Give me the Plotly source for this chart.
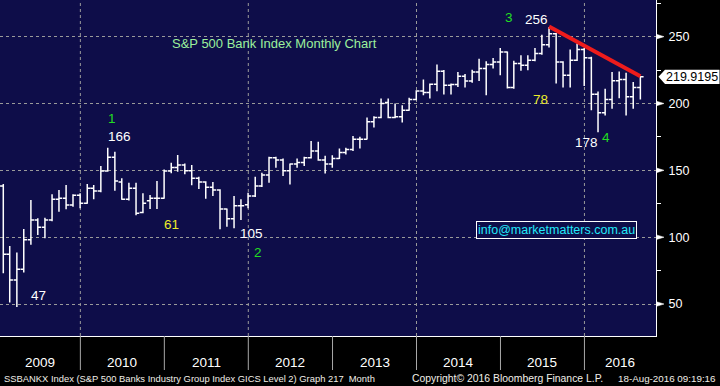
import pandas as pd
import plotly.graph_objects as go

# ---------------- data (monthly OHLC, S&P 500 Banks index) ----------------
dates = [d.strftime("%Y-%m-%d") for d in
         pd.date_range("2009-01-31", periods=92, freq=pd.offsets.MonthEnd())]

opens = [138.3, 87.3, 67.9, 76.1, 98.0, 112.9, 107.5, 112.9, 128.4, 129.1, 124.1, 131.3,
         125.4, 136.6, 134.6, 149.5, 159.7, 141.3, 128.4, 136.6, 118.4, 127.3, 129.1, 129.1,
         149.5, 152.2, 154.0, 149.7, 144.0, 141.3, 137.3, 135.3, 121.1, 113.7, 123.6, 124.3,
         130.8, 138.2, 146.5, 159.4, 157.7, 149.7, 154.7, 155.9, 159.4, 164.4, 157.7, 154.7,
         158.9, 163.4, 165.6, 173.3, 173.3, 186.3, 189.5, 200.7, 189.5, 190.0, 195.0, 203.0,
         209.4, 208.2, 214.4, 224.1, 213.7, 214.2, 220.3, 216.9, 223.6, 226.1, 229.1, 231.1,
         238.5, 211.9, 230.0, 228.6, 232.3, 237.3, 244.0, 252.2, 231.1, 221.1, 232.3, 240.3,
         234.0, 207.0, 193.0, 203.0, 217.0, 218.0, 205.0, 212.0]
highs = [139.8, 93.5, 88.5, 106.2, 127.8, 114.2, 114.6, 132.1, 135.3, 139.0, 132.1, 132.8,
         139.8, 139.0, 153.2, 166.9, 163.9, 144.0, 140.8, 140.8, 132.8, 131.6, 142.0, 150.7,
         155.7, 161.4, 155.2, 154.0, 145.2, 141.8, 141.3, 135.8, 121.4, 130.8, 128.4, 133.3,
         145.2, 148.2, 160.2, 160.2, 158.9, 155.2, 158.9, 160.2, 171.9, 171.4, 160.9, 161.2,
         166.4, 166.9, 175.6, 175.1, 189.5, 190.5, 203.7, 203.7, 199.9, 198.7, 204.2, 209.9,
         217.9, 214.9, 229.1, 225.0, 214.9, 223.6, 222.0, 225.3, 233.5, 231.5, 234.0, 241.5,
         238.8, 232.0, 236.0, 236.1, 241.5, 251.5, 257.2, 252.7, 231.5, 240.3, 244.8, 241.5,
         235.0, 209.0, 211.0, 223.5, 224.0, 223.0, 216.0, 220.5]
lows = [73.1, 51.2, 47.8, 73.6, 94.3, 101.7, 99.3, 112.0, 119.1, 120.9, 122.8, 121.6,
        125.0, 128.4, 133.6, 149.0, 134.8, 128.0, 127.5, 116.4, 117.9, 121.1, 121.1, 128.8,
        147.8, 149.0, 147.0, 138.8, 136.0, 128.8, 130.8, 106.0, 107.9, 106.7, 112.9, 121.6,
        130.0, 137.5, 140.8, 152.0, 145.7, 139.5, 152.0, 153.2, 158.9, 157.2, 147.7, 152.0,
        158.5, 161.9, 164.4, 166.4, 173.0, 182.1, 189.0, 189.0, 189.0, 185.8, 194.5, 202.5,
        206.2, 203.7, 209.2, 206.7, 206.7, 212.4, 211.9, 215.5, 216.9, 206.2, 226.1, 221.1,
        211.2, 211.0, 224.4, 224.9, 231.6, 236.5, 241.8, 214.9, 211.9, 211.9, 231.8, 213.0,
        195.0, 178.5, 191.0, 196.0, 204.0, 191.0, 196.0, 203.0]
closes = [87.3, 67.9, 76.1, 98.0, 112.9, 107.5, 112.9, 128.4, 129.1, 124.1, 131.3, 125.4,
          136.6, 134.6, 149.5, 159.7, 142.0, 128.4, 136.6, 117.9, 125.4, 129.1, 129.1, 149.5,
          152.2, 154.0, 149.7, 144.0, 141.3, 137.3, 135.3, 121.1, 113.7, 123.6, 123.6, 130.8,
          138.2, 146.5, 159.4, 157.7, 149.7, 154.7, 155.9, 159.4, 164.4, 157.7, 154.7, 158.9,
          163.4, 165.6, 173.3, 173.3, 186.3, 189.5, 199.9, 189.5, 190.0, 195.0, 203.0, 209.4,
          208.2, 214.4, 224.1, 213.7, 214.2, 220.3, 216.9, 223.6, 226.1, 229.1, 231.1, 238.5,
          211.9, 230.0, 228.6, 232.3, 237.3, 244.0, 252.2, 231.1, 221.1, 232.3, 240.3, 234.3,
          207.0, 193.0, 203.0, 217.0, 218.0, 205.0, 212.0, 219.9195]

trend_dates = ["2015-07-31", "2016-08-31"]
trend_values = [257.5, 220.3]

years = [2009, 2010, 2011, 2012, 2013, 2014, 2015, 2016]
grid_years = [2010, 2012, 2014, 2016]
y_major = [50, 100, 150, 200, 250]
last_price_text = "219.9195"

# ---------------- geometry helpers ----------------
W, H = 720, 386
ML, MR, MT, MB = 0, 64, 0, 50
PW, PH = W - ML - MR, H - MT - MB
X_RANGE = ["2009-01-16 17:00", "2016-11-07"]
Y_RANGE = [26.1, 277.4]
ppu = PH / (Y_RANGE[1] - Y_RANGE[0])


def px(x, y):
    return x / PW, 1 - y / PH


FONT = "Liberation Sans, Arial, sans-serif"
NAVY = "#0e0d49"
WHITE = "#ffffff"
GREEN = "#22dd22"
YELLOW = "#ecec2a"

fig = go.Figure()
fig.add_trace(go.Ohlc(
    x=dates, open=opens, high=highs, low=lows, close=closes,
    increasing=dict(line=dict(color=WHITE, width=1.5)),
    decreasing=dict(line=dict(color=WHITE, width=1.5)),
    tickwidth=0.5, showlegend=False, hoverinfo="skip"))
fig.add_trace(go.Scatter(
    x=trend_dates, y=trend_values, mode="lines",
    line=dict(color="#ee1c1c", width=4), showlegend=False, hoverinfo="skip"))

shapes = []
for yr in grid_years:
    shapes.append(dict(type="line", xref="x", yref="paper", x0=f"{yr}-01-01", x1=f"{yr}-01-01",
                       y0=0, y1=1, line=dict(color="#9a9a9a", width=1, dash="dot"), layer="below"))
for yr in years[1:]:
    shapes.append(dict(type="line", xref="x", yref="paper", x0=f"{yr}-01-01", x1=f"{yr}-01-01",
                       y0=0, y1=-34 / PH, line=dict(color="#a8a8a8", width=1)))
# arrow markers on right axis
for v in y_major:
    h = 2.3 / ppu
    shapes.append(dict(type="path", xref="paper", yref="y",
                       path=f"M {656.5/PW},{v+h} L {664/PW},{v} L {656.5/PW},{v-h} Z",
                       fillcolor=WHITE, line=dict(color=WHITE, width=0.5)))
# last price tag
lv = closes[-1]
hh = 7.2 / ppu
shapes.append(dict(type="path", xref="paper", yref="y",
                   path=(f"M {658.5/PW},{lv} L {665/PW},{lv+hh} L {719.5/PW},{lv+hh} "
                         f"L {719.5/PW},{lv-hh} L {665/PW},{lv-hh} Z"),
                   fillcolor=WHITE, line=dict(color=WHITE, width=0)))

ann = []


def add_text(text, x, y, color, size, xanchor="center", yanchor="middle", **kw):
    xp, yp = px(x, y)
    ann.append(dict(text=text, x=xp, y=yp, xref="paper", yref="paper", showarrow=False,
                    xanchor=xanchor, yanchor=yanchor,
                    font=dict(family=FONT, size=size, color=color), **kw))


add_text("S&P 500 Bank Index Monthly Chart", 274, 44, "#9cf09c", 13)
labels = [("1", 112, 118.5, GREEN), ("166", 119, 136, WHITE), ("61", 171, 224, YELLOW),
          ("47", 38, 295, WHITE), ("105", 251, 233, WHITE), ("2", 257.5, 252, GREEN),
          ("3", 508.5, 17.7, GREEN), ("256", 536, 19, WHITE), ("78", 540, 99, YELLOW),
          ("178", 586, 142.5, WHITE), ("4", 606, 137, GREEN)]
for t, x, y, c in labels:
    add_text(t, x, y, c, 13.5)

add_text("info@marketmatters.com.au", 556, 230, "#22e8f8", 12.5,
         bordercolor=WHITE, borderwidth=1, borderpad=1, bgcolor=NAVY)

# year labels centred on visible year spans
x0 = pd.Timestamp(X_RANGE[0]); x1 = pd.Timestamp(X_RANGE[1])
dpx = PW / (x1 - x0).total_seconds()
for yr in years:
    a = max(pd.Timestamp(f"{yr}-01-01"), x0)
    b = min(pd.Timestamp(f"{yr+1}-01-01"), x1)
    cx = ((a - x0).total_seconds() + (b - x0).total_seconds()) / 2 * dpx
    add_text(str(yr), cx, 362, WHITE, 13.5)

# last price text
add_text(last_price_text, 691.5, (Y_RANGE[1] - lv) * ppu, "#000000", 12.5)

# footer
add_text("SSBANKX Index (S&P 500 Banks Industry Group Index GICS Level 2) Graph 217  Month",
         2, 378, "#f2efe8", 9.4, xanchor="left")
add_text("Copyright\u00a9 2016 Bloomberg Finance L.P.", 410, 378, "#f2efe8", 10.4, xanchor="left")
add_text("18-Aug-2016 09:19:16", 718, 378, "#f2efe8", 9.8, xanchor="right")

fig.update_layout(
    width=W, height=H, margin=dict(l=ML, r=MR, t=MT, b=MB, pad=0),
    paper_bgcolor="#000000", plot_bgcolor=NAVY,
    shapes=shapes, annotations=ann, showlegend=False,
    xaxis=dict(type="date", range=X_RANGE, showgrid=False, showticklabels=False, ticks="",
               zeroline=False, showline=True, linecolor=WHITE, linewidth=1,
               rangeslider=dict(visible=False), fixedrange=True),
    yaxis=dict(side="right", range=Y_RANGE, tickvals=y_major, ticktext=[str(v) for v in y_major],
               ticks="outside", ticklen=9, tickcolor="rgba(0,0,0,0)",
               tickfont=dict(family=FONT, size=12.5, color=WHITE),
               showline=True, linecolor=WHITE, linewidth=1, zeroline=False,
               showgrid=True, gridcolor="#9a9a9a", griddash="dot", gridwidth=1,
               minor=dict(dtick=25, tick0=0, ticks="outside", ticklen=4, tickcolor=WHITE,
                          showgrid=False),
               fixedrange=True),
)

fig.write_html("out.html", post_script="document.body.style.margin='0px';",
               config={"displayModeBar": False})
